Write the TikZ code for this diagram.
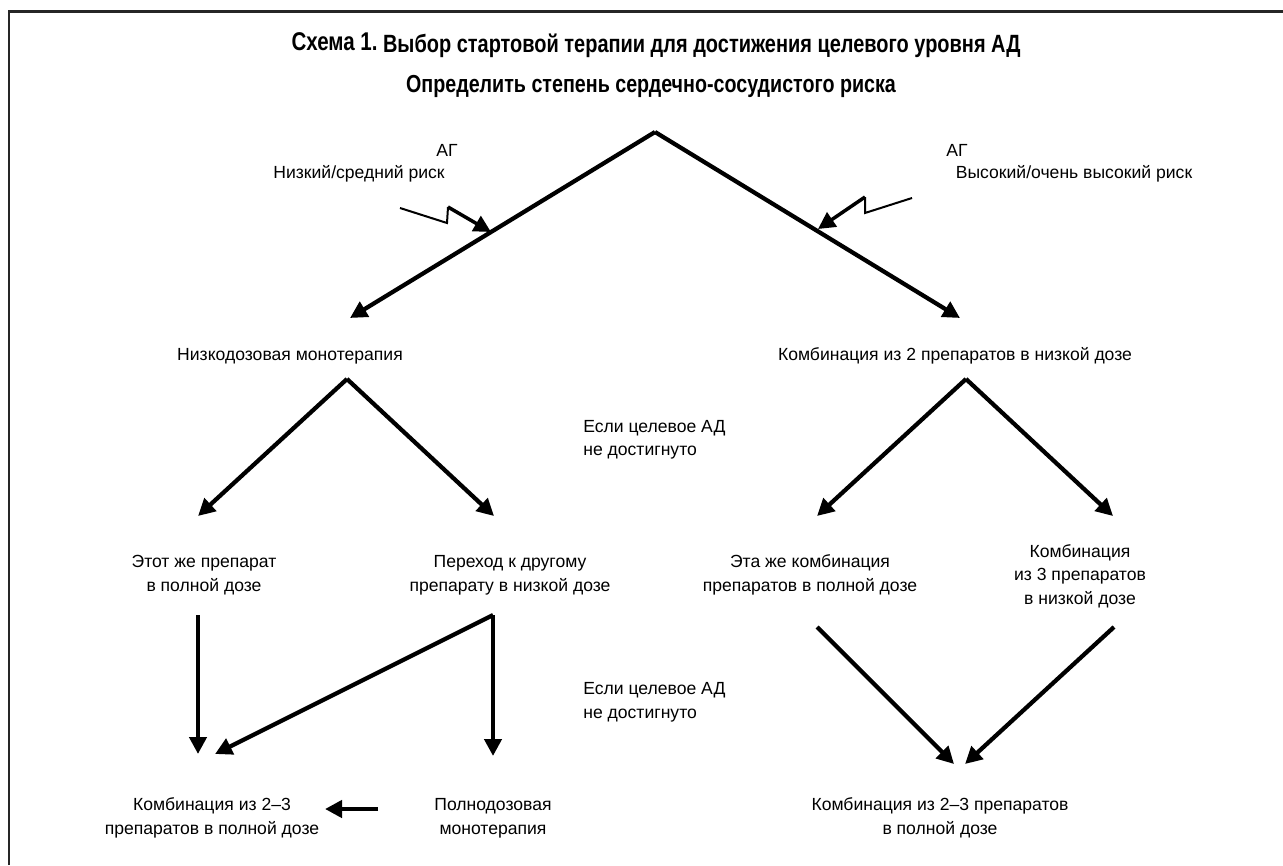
\documentclass[tikz,border=0pt]{standalone}
\usepackage{fontspec}
\setmainfont{Liberation Sans}
\newfontfamily\headfont{Liberation Sans}[FakeStretch=0.80]
\usetikzlibrary{arrows.meta}

\begin{document}
\begin{tikzpicture}[x=0.02cm, y=-0.02cm,
  lbl/.style={align=center, inner sep=0pt, font=\fontsize{10}{13.4}\selectfont},
  lbll/.style={lbl, align=left},
  arr/.style={line width=0.085cm, -{Triangle[length=0.34cm, width=0.34cm]}},
  jag/.style={line width=0.04cm}]
\useasboundingbox (0,0) rectangle (1283,865);
\draw[line width=0.06cm, black!85] (9,865) |- (1283,12);

% headings
\node[inner sep=0pt, font=\headfont\bfseries\fontsize{14.2}{16}\selectfont] (title) at (656,45)
  {\raisebox{1.5pt}{\fontsize{14.6}{16}\selectfont Схема 1.} Выбор стартовой терапии для достижения целевого уровня АД};
\node[inner sep=0pt, font=\headfont\bfseries\fontsize{14}{16}\selectfont] (risk) at (651,86)
  {Определить степень сердечно-сосудистого риска};

% risk groups
\node[lbl] (lowAG) at (447,150) {АГ};
\node[lbl] (lowrisk) at (359,174) {Низкий/средний риск};
\node[lbl] (highAG) at (957,150) {АГ};
\node[lbl] (highrisk) at (1074,174) {Высокий/очень высокий риск};

% second level
\node[lbl] (mono) at (290,356) {Низкодозовая монотерапия};
\node[lbl] (combo2) at (955,356) {Комбинация из 2 препаратов в низкой дозе};
\node[lbll, anchor=west] (fail1) at (583,440) {Если целевое АД\\не достигнуто};

% third level
\node[lbl] (samefull) at (204,575) {Этот же препарат\\в полной дозе};
\node[lbl] (switchlow) at (510,575) {Переход к другому\\препарату в низкой дозе};
\node[lbl] (combofull) at (810,575) {Эта же комбинация\\препаратов в полной дозе};
\node[lbl] (combo3) at (1080,576) {Комбинация\\из 3 препаратов\\в низкой дозе};
\node[lbll, anchor=west] (fail2) at (583,702) {Если целевое АД\\не достигнуто};

% fourth level
\node[lbl] (leftend) at (212,818) {Комбинация из 2--3\\препаратов в полной дозе};
\node[lbl] (monofull) at (493,818) {Полнодозовая\\монотерапия};
\node[lbl] (rightend) at (940,818) {Комбинация из 2--3 препаратов\\в полной дозе};

% branch points and arrow ends
\coordinate (top) at (655,132);
\coordinate (topL) at (350,318);
\coordinate (topR) at (960,318);
\coordinate (monoS) at (347,379);
\coordinate (monoL) at (198,516);
\coordinate (monoR) at (494,516);
\coordinate (comboS) at (966,379);
\coordinate (comboL) at (817,516);
\coordinate (comboR) at (1113,516);
\coordinate (sameS) at (198,615);
\coordinate (sameE) at (198,754);
\coordinate (switchS) at (493,615);
\coordinate (switchL) at (215,754);
\coordinate (switchE) at (493,756);
\coordinate (fullS) at (817,627);
\coordinate (fullE) at (954,764);
\coordinate (threeS) at (1114,627);
\coordinate (threeE) at (965,764);
\coordinate (monoW) at (378,809);
\coordinate (leftE) at (325,809);

\draw[arr] (top) -- (topL);
\draw[arr] (top) -- (topR);
\draw[jag] (400,208) -- (447,223) -- (448,207);
\draw[arr, line width=0.07cm] (448,207) -- (491,232);
\draw[jag] (912,198) -- (865,213) -- (865,197);
\draw[arr, line width=0.07cm] (865,197) -- (818,229);

\draw[arr] (monoS) -- (monoL);
\draw[arr] (monoS) -- (monoR);
\draw[arr] (comboS) -- (comboL);
\draw[arr] (comboS) -- (comboR);

\draw[arr] (sameS) -- (sameE);
\draw[arr] (switchS) -- (switchL);
\draw[arr] (switchS) -- (switchE);
\draw[arr] (fullS) -- (fullE);
\draw[arr] (threeS) -- (threeE);
\draw[arr] (monoW) -- (leftE);
\end{tikzpicture}
\end{document}
